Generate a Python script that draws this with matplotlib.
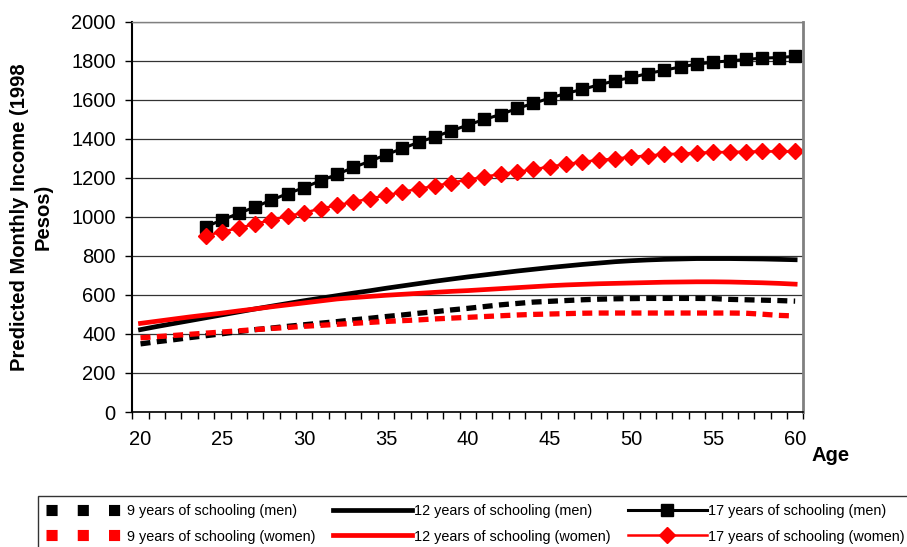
import matplotlib.pyplot as plt
from matplotlib.lines import Line2D
from matplotlib.ticker import MultipleLocator

plt.rcParams['font.family'] = ['Liberation Sans', 'DejaVu Sans']
plt.rcParams['lines.scale_dashes'] = False

# ages on the category axis
ages = list(range(20, 61))
ages_17 = list(range(24, 61))

# predicted monthly income (1998 pesos)
men_9 = [349, 360, 370, 381, 391, 401, 412, 422, 430, 439, 447, 455, 463, 472,
         480, 489, 497, 506, 514, 523, 531, 540, 549, 556, 563, 567, 571, 575,
         578, 580, 581, 582, 582, 582, 582, 581, 577, 575, 573, 571, 568]
men_12 = [422, 438, 453, 468, 483, 498, 513, 528, 542, 556, 570, 583, 596, 609,
          621, 634, 646, 658, 670, 681, 692, 702, 712, 722, 731, 740, 748, 756,
          763, 770, 775, 779, 782, 784, 786, 786, 786, 785, 784, 782, 780]
men_17 = [950, 984, 1018, 1050, 1086, 1119, 1150, 1185, 1217, 1253, 1284, 1318,
          1350, 1382, 1410, 1441, 1470, 1499, 1524, 1555, 1581, 1608, 1632, 1653,
          1676, 1697, 1714, 1734, 1751, 1768, 1782, 1792, 1799, 1806, 1813, 1816,
          1822]
women_9 = [380, 386, 392, 398, 404, 410, 416, 422, 428, 433, 439, 444, 449, 454,
           459, 464, 468, 472, 477, 481, 485, 489, 493, 497, 500, 502, 504, 506,
           507, 507, 507, 507, 507, 507, 507, 507, 507, 506, 501, 495, 492]
women_12 = [454, 465, 476, 487, 497, 507, 518, 528, 539, 549, 559, 569, 579, 586,
            592, 598, 603, 608, 613, 618, 622, 627, 632, 637, 642, 647, 651, 654,
            657, 659, 661, 663, 665, 666, 667, 667, 666, 664, 662, 659, 655]
women_17 = [903, 924, 942, 964, 984, 1004, 1021, 1042, 1059, 1076, 1093, 1110,
            1127, 1144, 1158, 1175, 1190, 1205, 1219, 1230, 1243, 1257, 1270, 1281,
            1291, 1298, 1307, 1314, 1320, 1324, 1328, 1331, 1332, 1334, 1335, 1335,
            1335]

fig = plt.figure(figsize=(9.07, 5.47), dpi=100)
ax = fig.add_axes([0.1459, 0.2468, 0.7398, 0.7137])

dash = (0, (7.2, 4.6))
ax.plot(ages, men_9, color='black', lw=3.8, ls=dash)
l12m, = ax.plot(ages, men_12, color='black', lw=3.4)
l17m, = ax.plot(ages_17, men_17, color='black', lw=2.2, marker='s', ms=8.3)
ax.plot(ages, women_9, color='red', lw=3.8, ls=dash)
l12w, = ax.plot(ages, women_12, color='red', lw=3.4)
l17w, = ax.plot(ages_17, women_17, color='red', lw=1.8, marker='D', ms=7.8)

ax.set_xlim(19.5, 60.5)
ax.set_ylim(0, 2000)
ax.yaxis.set_major_locator(MultipleLocator(200))
ax.set_xticks(range(20, 61, 5))
ax.xaxis.set_minor_locator(MultipleLocator(1, offset=0.5))
ax.tick_params(axis='x', which='major', length=0, pad=13, labelsize=14.5)
ax.tick_params(axis='x', which='minor', direction='out', length=5, width=1)
ax.tick_params(axis='y', direction='out', length=5, width=1, pad=7, labelsize=14.5)
ax.grid(axis='y', color='#333333', lw=0.9)
ax.set_axisbelow(True)

ax.spines['left'].set_linewidth(1.5)
ax.spines['bottom'].set_linewidth(1.2)
ax.spines['right'].set_color('#808080')
ax.spines['right'].set_linewidth(2)
ax.spines['top'].set_color('#808080')
ax.spines['top'].set_linewidth(1)

fig.text(0.0347, 0.603, 'Predicted Monthly Income (1998\nPesos)', rotation=90,
         ha='center', va='center', multialignment='center',
         fontsize=14.5, fontweight='bold', linespacing=1.3)
fig.text(0.895, 0.168, 'Age', ha='left', va='center', fontsize=14.5, fontweight='bold')

# legend dashes are drawn sparser than in the plot
leg_dash = (0, (8, 14.5))
h9m = Line2D([], [], color='black', lw=8, ls=leg_dash)
h9w = Line2D([], [], color='red', lw=8, ls=leg_dash)

handles = [h9m, h9w, l12m, l12w, l17m, l17w]
labels = ['9 years of schooling (men)', '9 years of schooling (women)',
          '12 years of schooling (men)', '12 years of schooling (women)',
          '17 years of schooling (men)', '17 years of schooling (women)']
leg = fig.legend(handles, labels, loc='upper left', bbox_to_anchor=(38 / 907, 1 - 496 / 547),
                 ncol=3, fontsize=10.4, frameon=True, fancybox=False, handlelength=5.5,
                 handletextpad=0.1, columnspacing=1.2, labelspacing=0.8,
                 borderpad=0.55, borderaxespad=0)
leg.get_frame().set_edgecolor('black')
leg.get_frame().set_linewidth(1)

fig.savefig('out.png', dpi=100)
